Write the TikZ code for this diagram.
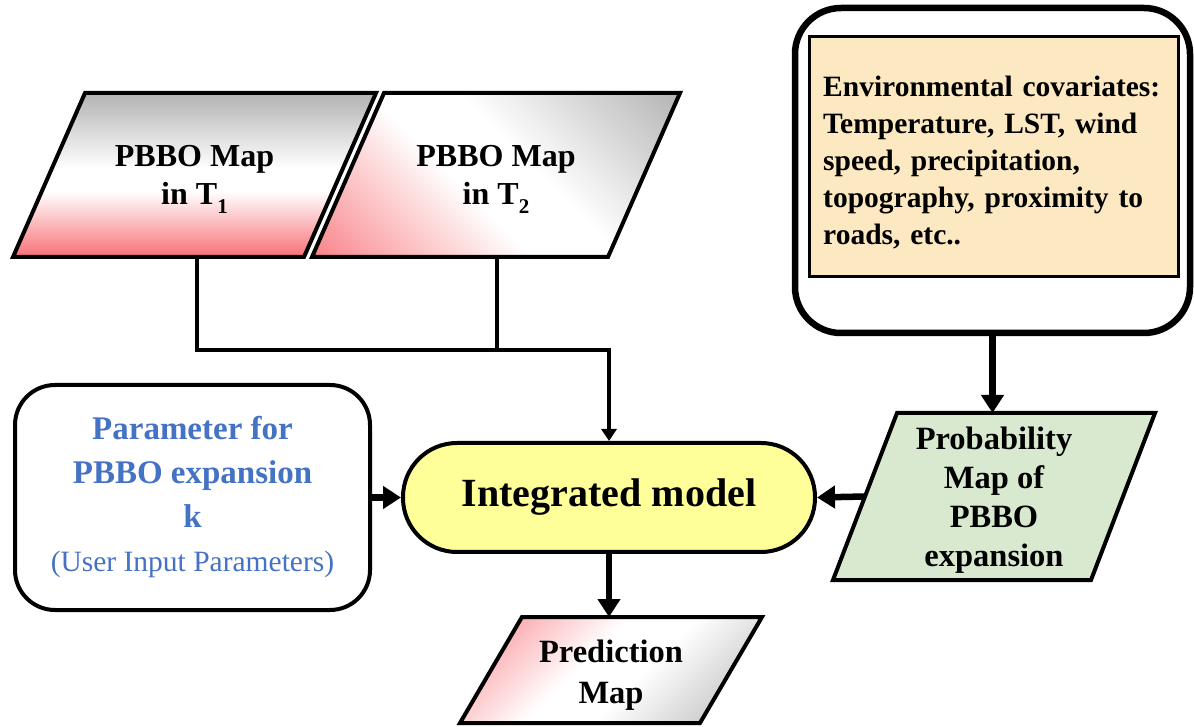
\documentclass[tikz,border=0pt]{standalone}
\usepackage{fontspec}
\setmainfont{Liberation Serif}
\usetikzlibrary{calc,arrows.meta}

\definecolor{mapred}{RGB}{248,112,118}
\definecolor{mapgray}{RGB}{178,178,178}
\definecolor{modelyellow}{RGB}{255,255,153}
\definecolor{probgreen}{RGB}{216,233,208}
\definecolor{covtan}{RGB}{253,233,193}
\definecolor{parblue}{RGB}{68,114,196}

% red -> white -> gray, bottom to top
\pgfdeclareverticalshading{mapshade}{100bp}{color(0bp)=(mapred); color(25bp)=(mapred); color(45bp)=(white); color(52bp)=(white); color(75bp)=(mapgray); color(100bp)=(mapgray)}
% same colours for diagonal use: the corners sit near 15bp and 85bp
\pgfdeclareverticalshading{mapdiag}{100bp}{color(0bp)=(mapred); color(10bp)=(mapred); color(44bp)=(white); color(56bp)=(white); color(86bp)=(mapgray); color(100bp)=(mapgray)}

\newcommand{\sub}[1]{\raisebox{-0.28em}{\fontsize{21}{21}\selectfont #1}}

\tikzset{
  frame/.style={inner sep=0pt, outer sep=0pt},
  outline/.style={draw, line width=4pt, line join=miter},
  maptext/.style={align=center, inner sep=0pt, font=\fontsize{32}{38}\selectfont\bfseries},
  wire/.style={line width=4pt},
  flow/.style={line width=6.5pt, -{Triangle[width=22pt,length=18pt]}},
}

\begin{document}
\begin{tikzpicture}[x=1pt,y=1pt]
\useasboundingbox (0,0) rectangle (1194,726);

% extents of the slanted map shapes
\node[frame, minimum width=363pt, minimum height=164pt] (t1) at (194.5,551) {};
\node[frame, minimum width=368pt, minimum height=164pt] (t2) at (496,551) {};
\node[frame, minimum width=322pt, minimum height=167pt] (prob) at (994,229.5) {};
\node[frame, minimum width=302pt, minimum height=106pt] (pred) at (611,56) {};

% input maps
\path[outline, shading=mapshade]
  ($(t1.north west)+(72,0)$) -- (t1.north east) -- ($(t1.south east)+(-72,0)$) -- (t1.south west) -- cycle;
\path[outline, shading=mapdiag, shading angle=-45]
  ($(t2.north west)+(72,0)$) -- (t2.north east) -- ($(t2.south east)+(-72,0)$) -- (t2.south west) -- cycle;
\node[maptext] (t1txt) at ($(t1.center)+(0,-4)$) {PBBO Map\\in T\sub{1}};
\node[maptext] (t2txt) at ($(t2.center)+(0,-4)$) {PBBO Map\\in T\sub{2}};

% environmental covariates
\node[draw, line width=6.5pt, rounded corners=46pt, fill=white,
  minimum width=395pt, minimum height=325pt] (env) at (992.5,555.5) {};
\node[draw, line width=3pt, fill=covtan, minimum width=369pt, minimum height=240pt]
  (cov) at (993.5,569) {};
\node[anchor=west, inner sep=0pt, text width=345pt, align=left,
  font=\fontsize{29.5}{37}\selectfont\bfseries]
  (covtxt) at (823,563) {Environmental covariates:\\Temperature, LST, wind\\speed, precipitation,\\topography, proximity to\\roads, etc..};

% probability map
\path[outline, fill=probgreen]
  ($(prob.north west)+(64,0)$) -- (prob.north east) -- ($(prob.south east)+(-64,0)$) -- (prob.south west) -- cycle;
\coordinate (probin) at ($(prob.west)+(32,0)$);
\node[maptext, font=\fontsize{32.5}{39}\selectfont\bfseries] (probtxt)
  at ($(prob.center)+(0,-4)$) {Probability\\Map of\\PBBO\\expansion};

% model
\node[outline, fill=modelyellow, rounded corners=54pt,
  minimum width=412pt, minimum height=109pt,
  font=\fontsize{40}{44}\selectfont\bfseries]
  (model) at (609,228.5) {Integrated model};

% user parameter
\node[outline, rounded corners=40pt, fill=white,
  minimum width=355pt, minimum height=225pt, align=center, text=parblue,
  font=\fontsize{33}{44}\selectfont\bfseries]
  (param) at (192.5,228.5) {Parameter for\\PBBO expansion\\k\\{\mdseries\fontsize{29.5}{44}\selectfont (User Input Parameters)}};

% prediction map
\path[outline, shading=mapdiag, shading angle=-135]
  ($(pred.north west)+(62,0)$) -- (pred.north east) -- ($(pred.south east)+(-62,0)$) -- (pred.south west) -- cycle;
\node[maptext, font=\fontsize{32.5}{41}\selectfont\bfseries] (predtxt)
  at ($(pred.center)+(0,-5)$) {Prediction\\Map};

% connectors
\coordinate (bus) at (497,376);
\draw[wire] ($(t1.south)+(2.5,0)$) |- (bus);
\draw[wire] ($(t2.south)+(1,0)$) -- (bus);
\draw[wire, -{Triangle[width=15pt,length=12pt]}] (bus) -| (model.north);
\draw[flow] (env.south) -- (env.south |- prob.north);
\draw[flow] (probin) -- (model.east);
\draw[flow] (param.east) -- (model.west);
\draw[flow] (model.south) -- (model.south |- pred.north);
\end{tikzpicture}
\end{document}
